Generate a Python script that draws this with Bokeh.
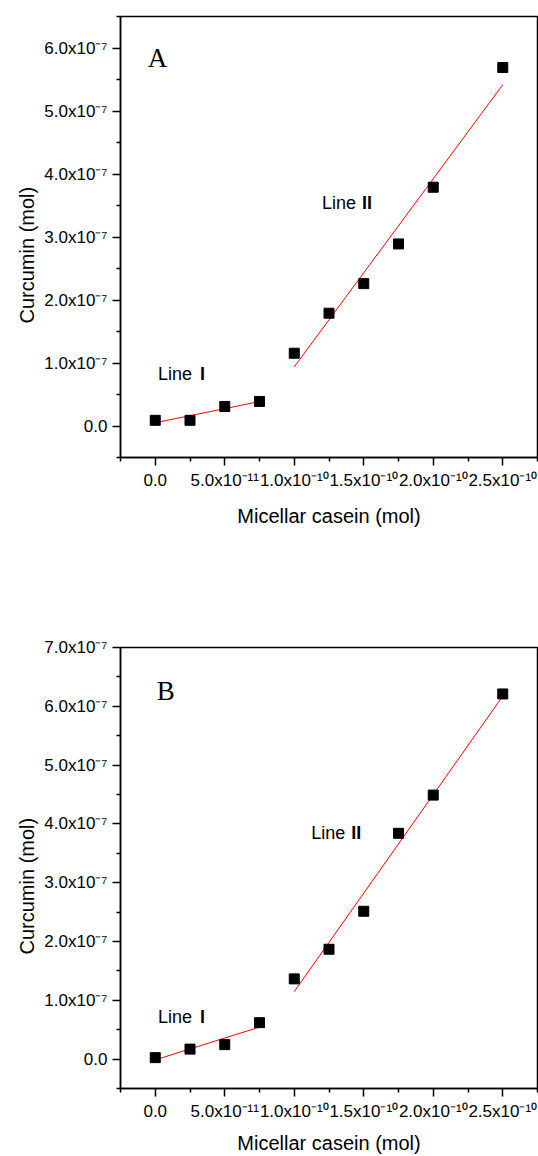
import numpy as np
from bokeh.plotting import figure
from bokeh.models import FixedTicker, Range1d, Title
from bokeh.layouts import column
from bokeh.core.properties import value
from bokeh.embed import file_html
from bokeh.resources import INLINE

# ---------------- data ----------------
casein = [0.0, 0.25e-10, 0.5e-10, 0.75e-10, 1.0e-10, 1.25e-10, 1.5e-10, 1.75e-10, 2.0e-10, 2.5e-10]
curcumin_a = [0.09e-7, 0.09e-7, 0.31e-7, 0.39e-7, 1.155e-7, 1.79e-7, 2.26e-7, 2.89e-7, 3.79e-7, 5.69e-7]
curcumin_b = [0.025e-7, 0.17e-7, 0.246e-7, 0.62e-7, 1.364e-7, 1.868e-7, 2.514e-7, 3.84e-7, 4.49e-7, 6.21e-7]

x_ticks = [0.0, 5e-11, 1e-10, 1.5e-10, 2e-10, 2.5e-10]
x_tick_labels = ["0.0", "5.0x10\u207b\u00b9\u00b9", "1.0x10\u207b\u00b9\u2070", "1.5x10\u207b\u00b9\u2070",
                 "2.0x10\u207b\u00b9\u2070", "2.5x10\u207b\u00b9\u2070"]
x_minor = [-2.5e-11, 2.5e-11, 7.5e-11, 1.25e-10, 1.75e-10, 2.25e-10, 2.75e-10]

y_ticks = [0.0, 1e-7, 2e-7, 3e-7, 4e-7, 5e-7, 6e-7, 7e-7]
y_tick_labels = ["0.0", "1.0x10\u207b\u2077", "2.0x10\u207b\u2077", "3.0x10\u207b\u2077", "4.0x10\u207b\u2077",
                 "5.0x10\u207b\u2077", "6.0x10\u207b\u2077", "7.0x10\u207b\u2077"]
y_minor = [-0.5e-7, 0.5e-7, 1.5e-7, 2.5e-7, 3.5e-7, 4.5e-7, 5.5e-7, 6.5e-7]

seg1 = slice(0, 4)   # Line I points
seg2 = slice(4, 10)  # Line II points

SANS = "Liberation Sans"
SERIF = "Liberation Serif"


def make_panel(yvals, y_end, letter, letter_pos, l1_pos, l2_pos, top_border, bottom_border, title_standoff):
    p = figure(frame_width=417, frame_height=441,
               x_range=Range1d(-0.25e-10, 2.75e-10), y_range=Range1d(-0.5e-7, y_end),
               output_backend="svg", toolbar_location=None,
               min_border_left=120, min_border_right=1,
               min_border_top=top_border, min_border_bottom=bottom_border)
    p.grid.visible = False
    p.outline_line_color = "black"
    p.outline_line_width = 1.5
    p.background_fill_color = "white"
    p.border_fill_color = "white"

    xa = p.xaxis[0]
    xa.ticker = FixedTicker(ticks=x_ticks, minor_ticks=x_minor)
    xa.major_label_overrides = {t: s for t, s in zip(x_ticks, x_tick_labels)}
    xa.axis_label = "Micellar casein (mol)"
    ya = p.yaxis[0]
    ya.ticker = FixedTicker(ticks=y_ticks, minor_ticks=y_minor)
    ya.major_label_overrides = {t: s for t, s in zip(y_ticks, y_tick_labels)}
    ya.axis_label = None
    for ax in (xa, ya):
        ax.axis_line_color = "black"
        ax.axis_line_width = 1.5
        ax.major_tick_line_color = "black"
        ax.major_tick_line_width = 1.5
        ax.minor_tick_line_color = "black"
        ax.minor_tick_line_width = 1.5
        ax.major_tick_in = 0
        ax.major_tick_out = 8
        ax.minor_tick_in = 0
        ax.minor_tick_out = 4
        ax.major_label_text_font = SANS
        ax.major_label_text_font_size = "17px"
        ax.major_label_text_color = "black"
        ax.axis_label_text_font = SANS
        ax.axis_label_text_font_size = "20px"
        ax.axis_label_text_font_style = "normal"
        ax.axis_label_text_color = "black"
    xa.major_label_standoff = 5
    xa.axis_label_standoff = title_standoff
    ya.major_label_standoff = 5

    p.add_layout(Title(text="Curcumin (mol)", align="left", offset=134, standoff=8,
                       text_font=SANS, text_font_size="20px", text_font_style="normal",
                       text_color="black"), "left")

    # fitted lines
    for sl in (seg1, seg2):
        xs = np.array(casein[sl])
        ys = np.array(yvals[sl])
        k, b = np.polyfit(xs, ys, 1)
        xe = np.array([xs[0], xs[-1]])
        p.line(xe, k * xe + b, line_color="red", line_width=1)

    p.scatter(casein, yvals, marker="square", size=10, color="black")

    p.text(x=[letter_pos[0]], y=[letter_pos[1]], text=[letter], y_offset=-8, text_font=value(SERIF),
           text_font_size="27px", text_color="black", text_align="left", text_baseline="alphabetic")
    for (lx, ly), num, off in ((l1_pos, "I", 42), (l2_pos, "II", 40)):
        p.text(x=[lx], y=[ly], text=["Line"], y_offset=-8, text_font=value(SANS), text_font_size="18px",
               text_color="black", text_align="left", text_baseline="alphabetic")
        p.text(x=[lx], y=[ly], text=[num], x_offset=off, y_offset=-8, text_font=value(SANS),
               text_font_size="18px", text_font_style="bold", text_color="black",
               text_align="left", text_baseline="alphabetic")
    return p


pa = make_panel(curcumin_a, 6.5e-7, "A", (-0.054e-10, 5.72e-7), (0.02e-10, 0.706e-7), (1.20e-10, 3.41e-7), 16, 133, 12)
pb = make_panel(curcumin_b, 7.0e-7, "B", (0.01e-10, 6.12e-7), (0.02e-10, 0.577e-7), (1.122e-10, 3.71e-7), 57, 68, 8)

layout = column(pa, pb)
open("out.html", "w").write(file_html(layout, INLINE))
